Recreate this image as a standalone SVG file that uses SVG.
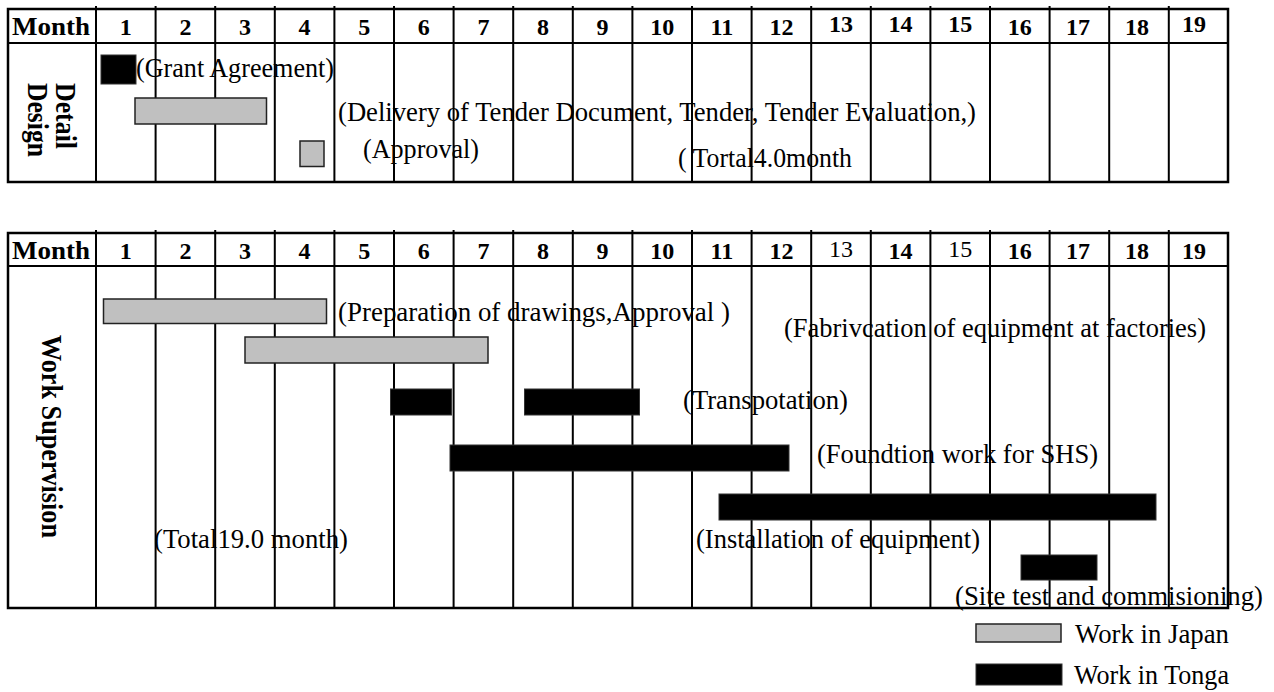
<svg xmlns="http://www.w3.org/2000/svg" width="1274" height="692" viewBox="0 0 1274 692">
<style>
.t{font-family:"Liberation Serif","Times New Roman",serif;font-size:27px;fill:#000}
.h{font-family:"Liberation Serif","Times New Roman",serif;font-size:24px;font-weight:bold;fill:#000;text-anchor:middle}
.hr{font-weight:normal}
.m{font-family:"Liberation Serif","Times New Roman",serif;font-size:25px;font-weight:bold;fill:#000}
.v{font-family:"Liberation Serif","Times New Roman",serif;font-weight:bold;fill:#000}
.g{stroke:#000;stroke-width:2;fill:none}
.b{stroke:#000;stroke-width:2.5;fill:none}
.jp{fill:#c0c0c0;stroke:#222;stroke-width:1.5}
.tg{fill:#000;stroke:#333;stroke-width:1}
</style>
<rect width="1274" height="692" fill="#fff"/>

<g id="labels">
<text class="t" x="136" y="77" textLength="198" lengthAdjust="spacingAndGlyphs">(Grant Agreement)</text>
<text class="t" x="338" y="121" textLength="638" lengthAdjust="spacingAndGlyphs">(Delivery of Tender Document, Tender, Tender Evaluation,)</text>
<text class="t" x="363" y="158" textLength="116" lengthAdjust="spacingAndGlyphs">(Approval)</text>
<text class="t" x="678" y="167" textLength="174" lengthAdjust="spacingAndGlyphs">( Tortal4.0month</text>
<text class="t" x="338" y="321" textLength="392" lengthAdjust="spacingAndGlyphs">(Preparation of drawings,Approval )</text>
<text class="t" x="784" y="337" textLength="422" lengthAdjust="spacingAndGlyphs">(Fabrivcation of equipment at factories)</text>
<text class="t" x="683" y="409" textLength="165" lengthAdjust="spacingAndGlyphs">(Transpotation)</text>
<text class="t" x="817" y="463" textLength="281" lengthAdjust="spacingAndGlyphs">(Foundtion work for SHS)</text>
<text class="t" x="696" y="548" textLength="284" lengthAdjust="spacingAndGlyphs">(Installation of equipment)</text>
<text class="t" x="154" y="548" textLength="194" lengthAdjust="spacingAndGlyphs">(Total19.0 month)</text>
<text class="t" x="955" y="605" textLength="308" lengthAdjust="spacingAndGlyphs">(Site test and commisioning)</text>
</g>

<g id="detail-design-table">
<rect class="b" x="8" y="9" width="1220" height="173"/>
<line class="g" x1="8" y1="43" x2="1228" y2="43"/>
<path class="g" d="M96 6V182M155.6 6V182M215.2 6V182M274.8 6V182M334.4 6V182M394 6V182M453.6 6V182M513.2 6V182M572.8 6V182M632.4 6V182M692 6V182M751.6 6V182M811.2 6V182M870.8 6V182M930.4 6V182M990 6V182M1049.6 6V182M1109.2 6V182M1168.8 6V182"/>
<text class="m" x="12" y="35" textLength="78" lengthAdjust="spacingAndGlyphs">Month</text>
<text class="h" x="125.8" y="35">1</text>
<text class="h" x="185.4" y="35">2</text>
<text class="h" x="245" y="35">3</text>
<text class="h" x="304.6" y="35">4</text>
<text class="h" x="364.2" y="35">5</text>
<text class="h" x="423.8" y="35">6</text>
<text class="h" x="483.4" y="35">7</text>
<text class="h" x="543" y="35">8</text>
<text class="h" x="602.6" y="35">9</text>
<text class="h" x="662.2" y="35">10</text>
<text class="h" x="721.8" y="35">11</text>
<text class="h" x="781.4" y="35">12</text>
<text class="h" x="841" y="32">13</text>
<text class="h" x="900.6" y="32">14</text>
<text class="h" x="960.2" y="32">15</text>
<text class="h" x="1019.8" y="35">16</text>
<text class="h" x="1078" y="35">17</text>
<text class="h" x="1137" y="35">18</text>
<text class="h" x="1194" y="32">19</text>
<text class="v" font-size="30" transform="translate(56,83) rotate(90)" textLength="66" lengthAdjust="spacingAndGlyphs">Detail</text>
<text class="v" font-size="30" transform="translate(28,83) rotate(90)" textLength="74" lengthAdjust="spacingAndGlyphs">Design</text>
</g>

<g id="work-supervision-table">
<rect class="b" x="8" y="233" width="1220" height="375"/>
<line class="g" x1="8" y1="266" x2="1228" y2="266"/>
<path class="g" d="M96 230V608M155.6 230V608M215.2 230V608M274.8 230V608M334.4 230V608M394 230V608M453.6 230V608M513.2 230V608M572.8 230V608M632.4 230V608M692 230V608M751.6 230V608M811.2 230V608M870.8 230V608M930.4 230V608M990 230V608M1049.6 230V608M1109.2 230V608M1168.8 230V608"/>
<text class="m" x="12" y="259" textLength="78" lengthAdjust="spacingAndGlyphs">Month</text>
<text class="h" x="125.8" y="259">1</text>
<text class="h" x="185.4" y="259">2</text>
<text class="h" x="245" y="259">3</text>
<text class="h" x="304.6" y="259">4</text>
<text class="h" x="364.2" y="259">5</text>
<text class="h" x="423.8" y="259">6</text>
<text class="h" x="483.4" y="259">7</text>
<text class="h" x="543" y="259">8</text>
<text class="h" x="602.6" y="259">9</text>
<text class="h" x="662.2" y="259">10</text>
<text class="h" x="721.8" y="259">11</text>
<text class="h" x="781.4" y="259">12</text>
<text class="h hr" x="841" y="257">13</text>
<text class="h" x="900.6" y="259">14</text>
<text class="h hr" x="960.2" y="257">15</text>
<text class="h" x="1019.8" y="259">16</text>
<text class="h" x="1078" y="259">17</text>
<text class="h" x="1137" y="259">18</text>
<text class="h" x="1194" y="259">19</text>
<text class="v" font-size="29" transform="translate(42,335) rotate(90)" textLength="203" lengthAdjust="spacingAndGlyphs">Work Supervision</text>
</g>

<g id="bars">
<rect class="tg" x="101" y="55" width="35" height="29"/>
<rect class="jp" x="135" y="98" width="131.5" height="26"/>
<rect class="jp" x="300" y="141" width="24" height="25.5"/>
<rect class="jp" x="103.5" y="299" width="223" height="24.5"/>
<rect class="jp" x="245" y="337" width="243" height="26"/>
<rect class="tg" x="390.5" y="389" width="61" height="26"/>
<rect class="tg" x="524.5" y="389" width="115" height="26"/>
<rect class="tg" x="450" y="445" width="339" height="26"/>
<rect class="tg" x="719" y="494" width="437" height="26"/>
<rect class="tg" x="1021" y="555" width="76" height="25"/>
</g>

<g id="legend">
<rect class="jp" x="976" y="624" width="85" height="18"/>
<text class="t" x="1075" y="643" textLength="154" lengthAdjust="spacingAndGlyphs">Work in Japan</text>
<rect class="tg" x="976" y="664" width="86" height="21"/>
<text class="t" x="1074" y="684" textLength="155" lengthAdjust="spacingAndGlyphs">Work in Tonga</text>
</g>
</svg>
